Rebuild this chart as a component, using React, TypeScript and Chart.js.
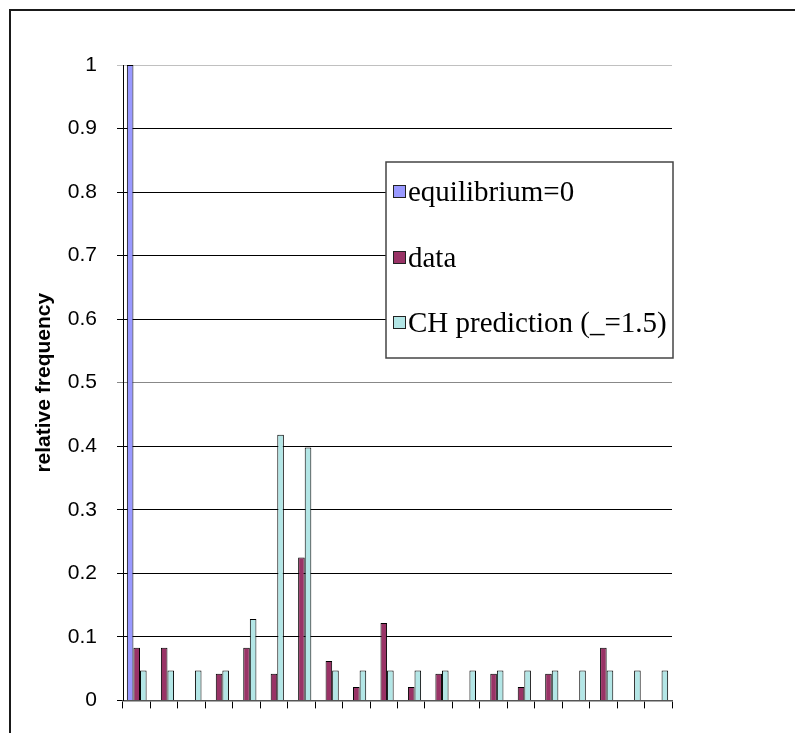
import React, { useEffect, useRef } from "react";
import { Chart, registerables } from "chart.js";

Chart.register(...registerables);

const categories = [
  "0-5", "5-10", "10-15", "15-20", "20-25", "25-30", "30-35", "35-40", "40-45", "45-50",
  "50-55", "55-60", "60-65", "65-70", "70-75", "75-80", "80-85", "85-90", "90-95", "95-100",
];
const equilibriumValues = [1, 0, 0, 0, 0, 0, 0, 0, 0, 0, 0, 0, 0, 0, 0, 0, 0, 0, 0, 0];
const dataValues = [
  0.083, 0.083, 0, 0.042, 0.083, 0.042, 0.225, 0.062, 0.021, 0.122,
  0.021, 0.042, 0, 0.042, 0.021, 0.042, 0, 0.083, 0, 0,
];
const chValues = [
  0.047, 0.047, 0.047, 0.047, 0.128, 0.418, 0.398, 0.047, 0.047, 0.047,
  0.047, 0.047, 0.047, 0.047, 0.047, 0.047, 0.047, 0.047, 0.047, 0.047,
];
const seriesLabels = ["equilibrium=0", "data", "CH prediction (_=1.5)"];
const seriesColors = ["#9999FF", "#993366", "#B3E6E6"];
const yMin = 0;
const yMax = 1;
const yStep = 0.1;
const yTitle = "relative frequency";

const framePlugin = {
  id: "frame",
  beforeDraw(chart: any) {
    const ctx = chart.ctx;
    ctx.save();
    ctx.fillStyle = "#ffffff";
    ctx.fillRect(0, 0, chart.width, chart.height);
    ctx.strokeStyle = "#1a1a1a";
    ctx.lineWidth = 2;
    ctx.beginPath();
    ctx.moveTo(chart.width, 10);
    ctx.lineTo(10, 10);
    ctx.lineTo(10, chart.height);
    ctx.stroke();
    ctx.restore();
  },
};

const boxLegendPlugin = {
  id: "boxLegend",
  afterDraw(chart: any) {
    const ctx = chart.ctx;
    const area = chart.chartArea;
    const right = area.right + 1;
    const left = right - 287;
    const top = area.top + 97;
    const height = 196;
    ctx.save();
    ctx.fillStyle = "#ffffff";
    ctx.fillRect(left, top, right - left, height);
    ctx.strokeStyle = "#444444";
    ctx.lineWidth = 1.5;
    ctx.strokeRect(left, top, right - left, height);
    const offsets = [30, 96, 161];
    chart.data.datasets.forEach((ds: any, i: number) => {
      const cy = top + offsets[i];
      ctx.fillStyle = ds.backgroundColor;
      ctx.fillRect(left + 7.5, cy - 6.5, 12, 12);
      ctx.strokeStyle = "#222222";
      ctx.lineWidth = 1;
      ctx.strokeRect(left + 7.5, cy - 6.5, 12, 12);
      ctx.fillStyle = "#000000";
      ctx.font = "29px 'Liberation Serif', 'Times New Roman', serif";
      ctx.textAlign = "left";
      ctx.textBaseline = "middle";
      ctx.fillText(ds.label, left + 22, cy + 1);
    });
    ctx.restore();
  },
};

export default function App() {
  const canvasRef = useRef<HTMLCanvasElement | null>(null);

  useEffect(() => {
    if (!canvasRef.current) return;
    const chart = new Chart(canvasRef.current, {
      type: "bar",
      data: {
        labels: categories,
        datasets: [
          {
            label: seriesLabels[0],
            data: equilibriumValues,
            backgroundColor: seriesColors[0],
            borderColor: "#000000",
            borderWidth: 1,
          },
          {
            label: seriesLabels[1],
            data: dataValues,
            backgroundColor: seriesColors[1],
            borderColor: "#000000",
            borderWidth: 1,
          },
          {
            label: seriesLabels[2],
            data: chValues,
            backgroundColor: seriesColors[2],
            borderColor: "#000000",
            borderWidth: 1,
          },
        ],
      },
      options: {
        responsive: false,
        animation: false,
        layout: { padding: { left: 0, top: 65, right: 123, bottom: 0 } },
        datasets: {
          bar: { categoryPercentage: 0.72, barPercentage: 1.0 },
        },
        plugins: {
          legend: { display: false },
          tooltip: { enabled: false },
          title: { display: false },
        },
        scales: {
          x: {
            afterFit: (s: any) => {
              s.height = 24;
            },
            ticks: { display: false },
            grid: {
              drawOnChartArea: false,
              drawTicks: true,
              tickLength: 8,
              color: "#000000",
              offset: true,
            },
            border: { display: true, color: "#555555", width: 1.5 },
          },
          y: {
            min: yMin,
            max: yMax,
            afterFit: (s: any) => {
              s.width = 123;
            },
            ticks: {
              stepSize: yStep,
              color: "#000000",
              padding: 20,
              font: { family: "'Liberation Sans', Arial, sans-serif", size: 21 },
              callback: (v: any) => String(parseFloat(Number(v).toFixed(1))),
            },
            grid: {
              color: (c: any) => {
                const v = c.tick ? c.tick.value : 0;
                if (Math.abs(v - 1) < 1e-6) return "#c0c0c0";
                if (Math.abs(v - 0.5) < 1e-6) return "#888888";
                return "#000000";
              },
              tickLength: 6,
              lineWidth: 1,
            },
            border: { display: true, color: "#000000", width: 1 },
            title: {
              display: true,
              text: yTitle,
              color: "#000000",
              padding: { top: 32, bottom: 0 },
              font: { family: "'Liberation Sans', Arial, sans-serif", size: 21, weight: "bold" },
            },
          },
        },
      },
      plugins: [framePlugin, boxLegendPlugin],
    } as any);
    return () => chart.destroy();
  }, []);

  return (
    <div style={{ position: "absolute", left: 0, top: 0, width: 795, height: 733 }}>
      <canvas ref={canvasRef} width={795} height={733} />
    </div>
  );
}
